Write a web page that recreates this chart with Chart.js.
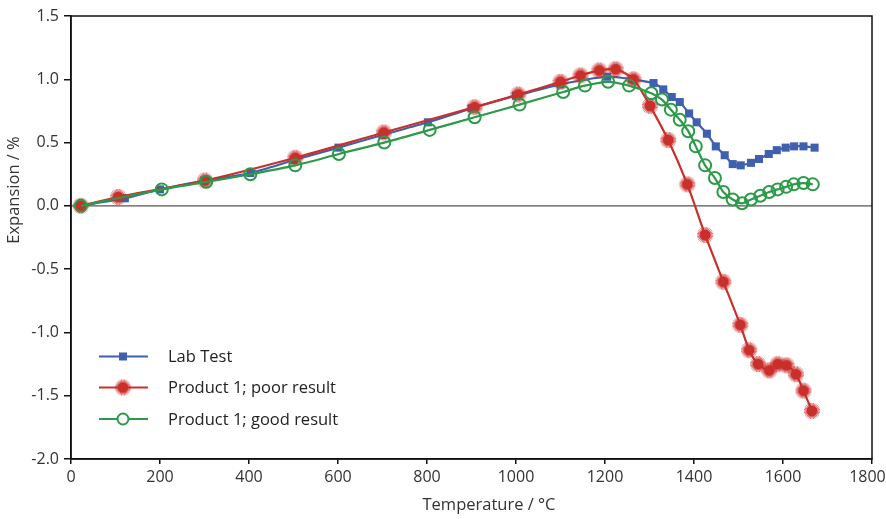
<!DOCTYPE html>
<html>
<head>
<meta charset="utf-8">
<script src="https://cdn.jsdelivr.net/npm/chart.js@4.4.1/dist/chart.umd.min.js"></script>
<style>
    html, body { margin: 0; padding: 0; background: #fff; }
    #wrap { width: 886px; height: 519px; position: relative; }
</style>
</head>
<body>
<div id="wrap"><canvas id="myChart"></canvas></div>
<script>
// data
const xTicks = [0, 200, 400, 600, 800, 1000, 1200, 1400, 1600, 1800];
const yTicks = [-2.0, -1.5, -1.0, -0.5, 0.0, 0.5, 1.0, 1.5];

const labTemp = [20, 121, 200, 300, 403, 500, 601, 700, 802, 900, 1000, 1100, 1205, 1260,
    1309, 1331, 1350, 1368, 1389, 1406, 1429, 1449, 1469, 1487, 1505, 1528, 1546, 1568,
    1586, 1606, 1625, 1646, 1671];
const labExp = [0.0, 0.06, 0.13, 0.2, 0.26, 0.36, 0.46, 0.56, 0.66, 0.77, 0.87, 0.96, 1.02, 1.0,
    0.97, 0.92, 0.86, 0.82, 0.73, 0.66, 0.57, 0.47, 0.4, 0.33, 0.32, 0.34, 0.37, 0.41,
    0.44, 0.46, 0.47, 0.47, 0.46];

const poorTemp = [22, 106, 301, 504, 703, 907, 1005, 1100, 1145, 1187, 1224, 1264, 1301, 1342,
    1385, 1425, 1466, 1504, 1524, 1544, 1569, 1588, 1608, 1629, 1646, 1665];
const poorExp = [0.0, 0.07, 0.2, 0.38, 0.58, 0.78, 0.88, 0.98, 1.03, 1.07, 1.08, 1.0, 0.79, 0.52,
    0.17, -0.23, -0.6, -0.94, -1.14, -1.25, -1.3, -1.25, -1.26, -1.33, -1.46, -1.62];

const goodTemp = [22, 204, 304, 403, 504, 602, 704, 806, 907, 1008, 1106, 1155, 1207, 1254,
    1304, 1328, 1348, 1368, 1387, 1404, 1425, 1447, 1466, 1487, 1508, 1528, 1549, 1569,
    1588, 1607, 1624, 1646, 1667];
const goodExp = [0.0, 0.13, 0.19, 0.25, 0.32, 0.41, 0.5, 0.6, 0.7, 0.8, 0.9, 0.95, 0.98, 0.95,
    0.89, 0.84, 0.76, 0.68, 0.59, 0.47, 0.32, 0.22, 0.11, 0.05, 0.02, 0.05, 0.08, 0.11,
    0.13, 0.15, 0.17, 0.18, 0.17];

const seriesNames = ["Lab Test", "Product 1; poor result", "Product 1; good result"];
const xTitle = "Temperature / °C";
const yTitle = "Expansion / %";

const blue = "#3f60ae";
const red = "#c9302c";
const green = "#2c9a48";
const font = "'Open Sans', 'Noto Sans', sans-serif";

// spiky red marker
function makeStar() {
    const c = document.createElement("canvas");
    c.width = 18;
    c.height = 18;
    const g = c.getContext("2d");
    g.translate(9, 9);
    g.strokeStyle = "rgba(205, 45, 45, 0.75)";
    g.lineWidth = 1;
    for (let i = 0; i < 32; i++) {
        const a = i * Math.PI * 2 / 32;
        g.beginPath();
        g.moveTo(0, 0);
        g.lineTo(Math.cos(a) * 8, Math.sin(a) * 8);
        g.stroke();
    }
    g.fillStyle = red;
    g.beginPath();
    g.arc(0, 0, 5.5, 0, Math.PI * 2);
    g.fill();
    return c;
}
const star = makeStar();

function pts(xs, ys) {
    return xs.map((x, i) => ({ x: x, y: ys[i] }));
}

const styles = [
    { color: blue, pointStyle: "rect", radius: 5.7, bg: blue, bw: 0 },
    { color: red, pointStyle: star, radius: 9, bg: red, bw: 0 },
    { color: green, pointStyle: "circle", radius: 6, bg: "rgba(255,255,255,0)", bw: 2 },
];

const frame = {
    id: "frame",
    beforeDatasetsDraw(chart) {
        const { ctx, chartArea: a, scales } = chart;
        const y0 = scales.y.getPixelForValue(0);
        ctx.save();
        ctx.strokeStyle = "#555";
        ctx.lineWidth = 1.3;
        ctx.beginPath();
        ctx.moveTo(a.left, y0);
        ctx.lineTo(a.right, y0);
        ctx.stroke();
        ctx.restore();
    },
    afterDraw(chart) {
        const { ctx, chartArea: a } = chart;
        ctx.save();
        ctx.strokeStyle = "#111";
        ctx.lineWidth = 1.5;
        ctx.strokeRect(a.left, a.top, a.right - a.left, a.bottom - a.top);

        // axis titles
        ctx.fillStyle = "#333";
        ctx.font = "16.5px " + font;
        ctx.textAlign = "center";
        ctx.textBaseline = "middle";
        ctx.fillText(xTitle, 489, 505);
        ctx.save();
        ctx.translate(14, 190);
        ctx.rotate(-Math.PI / 2);
        ctx.fillText(yTitle, 0, 0);
        ctx.restore();

        // legend
        const rows = [356.5, 387.5, 419];
        ctx.textAlign = "left";
        rows.forEach((ry, i) => {
            const s = styles[i];
            ctx.strokeStyle = s.color;
            ctx.lineWidth = 2;
            ctx.beginPath();
            ctx.moveTo(99, ry);
            ctx.lineTo(148, ry);
            ctx.stroke();
            if (i === 0) {
                ctx.fillStyle = blue;
                ctx.fillRect(119, ry - 4, 8, 8);
            } else if (i === 1) {
                ctx.drawImage(star, 123 - 9, ry - 9);
            } else {
                ctx.fillStyle = "#fff";
                ctx.beginPath();
                ctx.arc(123, ry, 5.5, 0, Math.PI * 2);
                ctx.fill();
                ctx.stroke();
            }
            ctx.fillStyle = "#222";
            ctx.fillText(seriesNames[i], 168, ry + 1);
        });
        ctx.restore();
    },
};

const datasets = [labExp, poorExp, goodExp].map((ys, i) => {
    const xs = [labTemp, poorTemp, goodTemp][i];
    const s = styles[i];
    return {
        label: seriesNames[i],
        data: pts(xs, ys),
        borderColor: s.color,
        borderWidth: 2.2,
        backgroundColor: s.bg,
        pointStyle: s.pointStyle,
        pointRadius: s.radius,
        pointHoverRadius: s.radius,
        pointBorderColor: s.color,
        pointBorderWidth: s.bw,
        pointBackgroundColor: s.bg,
        tension: 0.25,
        order: 3 - i,
    };
});

const config = {
    type: "line",
    data: { datasets: datasets },
    options: {
        responsive: false,
        animation: false,
        layout: { padding: { top: 16, right: 14, left: 0, bottom: 0 } },
        plugins: {
            legend: { display: false },
            tooltip: { enabled: false },
        },
        scales: {
            x: {
                type: "linear",
                min: 0,
                max: 1800,
                afterBuildTicks: (s) => { s.ticks = xTicks.map(v => ({ value: v })); },
                afterFit: (s) => { s.height = 60; s.paddingRight = 0; s.paddingLeft = 0; },
                border: { color: "#111", width: 1.5 },
                grid: { drawOnChartArea: false, drawTicks: true, tickLength: 5, color: "#111", lineWidth: 1.5 },
                // last label nudged left so it stays inside the canvas
                ticks: { color: "#333", font: { family: font, size: 16 }, padding: 4, maxRotation: 0,
                    callback: (v) => (v === 1800 ? "1800\u2007" : String(v)) },
            },
            y: {
                type: "linear",
                min: -2,
                max: 1.5,
                afterBuildTicks: (s) => { s.ticks = yTicks.map(v => ({ value: v })); },
                afterFit: (s) => { s.width = 71; },
                border: { color: "#111", width: 1.5 },
                grid: { drawOnChartArea: false, drawTicks: true, tickLength: 7, color: "#111", lineWidth: 1.5 },
                ticks: { color: "#333", font: { family: font, size: 16 }, padding: 5, callback: (v) => v.toFixed(1) },
            },
        },
    },
    plugins: [frame],
};

const canvas = document.getElementById("myChart");
canvas.width = 886;
canvas.height = 519;
const myChart = new Chart(canvas, config);
</script>
</body>
</html>
